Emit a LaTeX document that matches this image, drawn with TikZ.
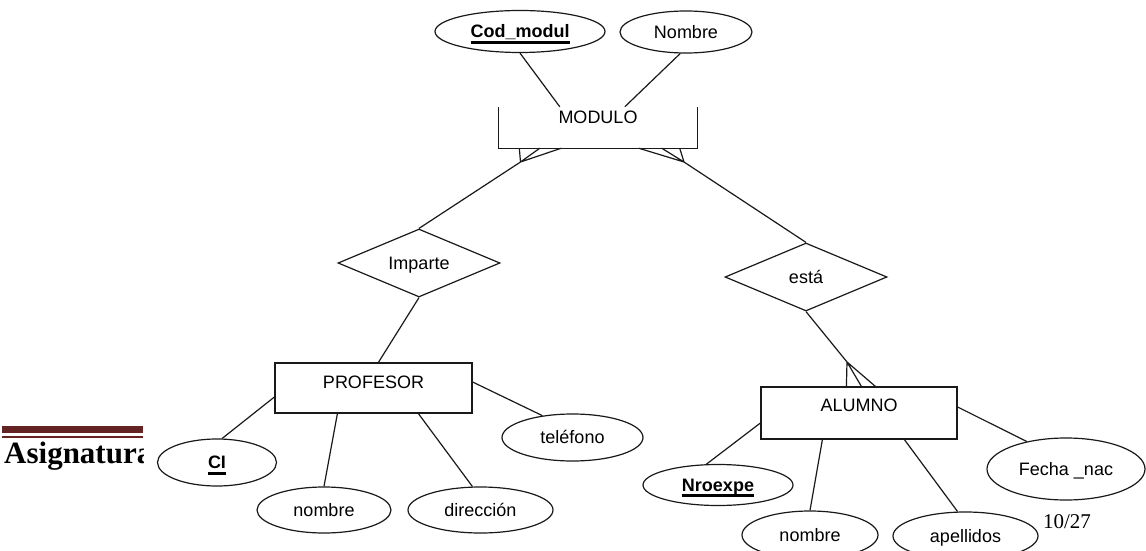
\documentclass[tikz,border=0pt]{standalone}
\usepackage{fontspec}
\setmainfont{Liberation Sans}
\newfontfamily\docserif{Liberation Serif}
\usetikzlibrary{shapes.geometric,calc}
\definecolor{rulered}{RGB}{99,36,35}
\definecolor{inkc}{RGB}{25,25,25}
% key attribute: bold text with a heavy underline
\newcommand\keyattr[1]{\setbox0\hbox{\bfseries #1}\rlap{\rule[-5.8pt]{\wd0}{3pt}}\box0}
\begin{document}
\begin{tikzpicture}[x=1pt,y=-1pt,
  lbl/.style={font=\fontsize{18}{21}\selectfont, text=black, inner sep=0pt,
              text height=16.3pt, text depth=3.4pt},
  link/.style={draw=inkc, line width=1.2pt},
  attr/.style={lbl, ellipse, draw=inkc, line width=1.2pt, fill=white},
  entbox/.style={rectangle, draw=inkc, line width=1.2pt, fill=white, inner sep=0pt},
  rel/.style={lbl, diamond, draw=inkc, line width=1.2pt, fill=white, aspect=2.4,
              minimum width=162pt, minimum height=68pt},
]
\useasboundingbox[fill=white] (0,0) rectangle (1146,551);
\clip (0,0) rectangle (1146,551);

% page header fragment on the left
\fill[rulered] (2,426) rectangle (143,433.3);
\fill[rulered] (2,435.8) rectangle (143,437.7);
\begin{scope}
  \clip (0,400) rectangle (143,500);
  \node[anchor=base west, inner sep=0pt, font=\docserif\bfseries\fontsize{31}{34}\selectfont]
    (header) at (4,463) {Asignatura};
\end{scope}
\node[anchor=base, inner sep=0pt, font=\docserif\fontsize{21}{24}\selectfont]
  (pageno) at (1067,528) {10/27};

% entities
\node[inner sep=0pt, minimum width=198pt, minimum height=41pt] (mod) at (598,127.5) {};
\draw[link] (mod.north west) -- (mod.south west) -- (mod.south east) -- (mod.north east);
\node[lbl] (modlbl) at (598,117) {MODULO};

\node[entbox, minimum width=197pt, minimum height=50pt] (prof) at (373.5,388) {};
\node[lbl] (proflbl) at (373.5,382) {PROFESOR};

\node[entbox, minimum width=196pt, minimum height=52pt] (alum) at (859,413) {};
\node[lbl] (alumlbl) at (859,405) {ALUMNO};

% relationships
\node[rel] (imp) at (419,263) {Imparte};
\node[rel] (esta) at (806,277) {está};

% attributes
\node[attr, minimum width=170pt, minimum height=42pt] (cod) at (520,31.5) {\keyattr{Cod\_modul}};
\node[attr, minimum width=132pt, minimum height=42pt] (nom) at (686,32) {Nombre};

\node[attr, minimum width=119pt, minimum height=47pt] (ci) at (217,462.5) {\keyattr{CI}};
\node[attr, minimum width=134pt, minimum height=46pt] (nomp) at (324,510) {nombre};
\node[attr, minimum width=145pt, minimum height=46pt] (dir) at (480.5,510) {dirección};
\node[attr, minimum width=141pt, minimum height=47pt] (tel) at (572.5,437.5) {teléfono};

\node[attr, minimum width=150pt, minimum height=41pt] (nro) at (718,485) {\keyattr{Nroexpe}};
\node[attr, minimum width=136pt, minimum height=48pt] (noma) at (810,535) {nombre};
\node[attr, minimum width=145pt, minimum height=48pt] (ape) at (965.5,536) {apellidos};
\node[attr, minimum width=158pt, minimum height=62pt] (fec) at (1066,469) {Fecha \_nac};

% attribute links of MODULO
\draw[link] (cod.south) -- ($(mod.north west)+(61,0)$);
\draw[link] (nom.255) -- ($(mod.north west)+(126,0)$);

% crow's feet under MODULO
\coordinate (lf) at (520.5,162);
\coordinate (rf) at (684,162);
\draw[link] (lf) -- ($(mod.south west)+(20.5,0)$)
            (lf) -- ($(mod.south west)+(41,0)$)
            (lf) -- ($(mod.south west)+(62.5,0)$);
\draw[link] (rf) -- ($(mod.south east)+(-17.5,0)$)
            (rf) -- ($(mod.south east)+(-35.5,0)$)
            (rf) -- ($(mod.south east)+(-58.5,0)$);

% relationship links
\draw[link] (lf) -- (imp.north);
\draw[link] (imp.south) -- ($(prof.north west)+(104,0)$);
\draw[link] (rf) -- (esta.north);
\coordinate (af) at (847,362);
\draw[link] (esta.south) -- (af);
\draw[link] (af) -- ($(alum.north west)+(86,0)$)
            (af) -- ($(alum.north west)+(101,0)$)
            (af) -- ($(alum.north west)+(115,0)$);

% attribute links of PROFESOR
\draw[link] ($(prof.west)+(0,9)$) -- (ci.78);
\draw[link] ($(prof.south west)+(63,0)$) -- (nomp.north);
\draw[link] ($(prof.south west)+(144,0)$) -- (dir.109);
\draw[link] ($(prof.east)+(0,-6)$) -- (tel.144);

% attribute links of ALUMNO
\draw[link] ($(alum.west)+(0,10)$) -- (nro.119);
\draw[link] ($(alum.south west)+(62,0)$) -- (noma.north);
\draw[link] ($(alum.south west)+(144,0)$) -- (ape.108);
\draw[link] ($(alum.east)+(0,-6)$) -- (fec.145);
\end{tikzpicture}
\end{document}
